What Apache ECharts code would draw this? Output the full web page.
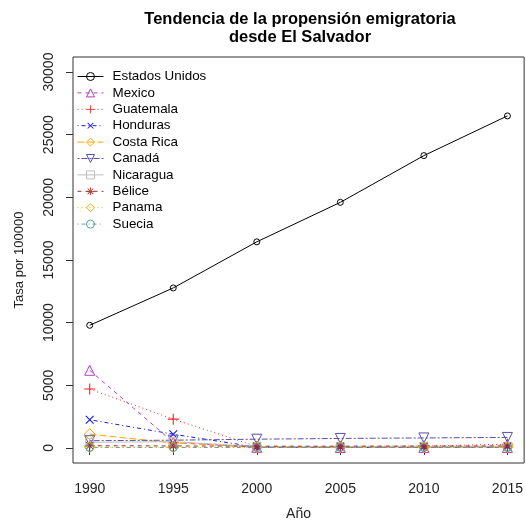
<!DOCTYPE html>
<html>
<head>
<meta charset="utf-8">
<script src="https://cdn.jsdelivr.net/npm/echarts@6/dist/echarts.min.js"></script>
<style>
  html, body { margin: 0; padding: 0; background: #fff; }
  #chart { width: 526px; height: 532px; }
</style>
</head>
<body>
<div id="chart"></div>
<script>
const years = [1990, 1995, 2000, 2005, 2010, 2015]
const yTicks = [0, 5000, 10000, 15000, 20000, 25000, 30000]

const estadosUnidos = [9790, 12770, 16450, 19600, 23330, 26500]
const mexico = [6200, 450, 50, 40, 40, 40]
const guatemala = [4700, 2300, 120, 120, 150, 300]
const honduras = [2250, 1100, 60, 60, 80, 100]
const costaRica = [1100, 400, 80, 80, 90, 100]
const canada = [580, 620, 700, 760, 800, 840]
const nicaragua = [450, 500, 120, 120, 130, 140]
const belice = [180, 160, 140, 140, 150, 160]
const panama = [80, 70, 60, 60, 60, 60]
const suecia = [40, 40, 40, 40, 40, 40]

// R-like line types
const LTY = {
  solid: 'solid',
  dashed: [4, 4],
  dotted: [1, 3],
  dotdash: [1, 3, 4, 3],
  longdash: [7, 3],
  twodash: [2, 2, 6, 2],
}

const plusPath = 'path://M4.5,0H5.5V10H4.5ZM0,4.5H10V5.5H0Z'
const starPath = 'path://M4.5,0H5.5V10H4.5ZM0,4.5H10V5.5H0ZM1.1,1.8L1.8,1.1L8.9,8.2L8.2,8.9ZM8.9,1.8L8.2,1.1L1.1,8.2L1.8,8.9Z'

// hollow: outline only, like R's open plotting characters
const seriesDefs = [
  { name: 'Estados Unidos', data: estadosUnidos, color: '#000000', lty: LTY.solid, symbol: 'circle', size: 6, hollow: true },
  { name: 'Mexico', data: mexico, color: '#B03CC0', lty: LTY.dashed, symbol: 'triangle', size: 10, hollow: true },
  { name: 'Guatemala', data: guatemala, color: '#FF2020', lty: LTY.dotted, symbol: plusPath, size: 11 },
  { name: 'Honduras', data: honduras, color: '#1818F0', lty: LTY.dotdash, symbol: plusPath, size: 11, rotate: 45 },
  { name: 'Costa Rica', data: costaRica, color: '#FFA500', lty: LTY.longdash, symbol: 'diamond', size: 11, hollow: true },
  { name: 'Canadá', data: canada, color: '#5A4FA8', lty: LTY.twodash, symbol: 'triangle', size: 10, rotate: 180, hollow: true },
  { name: 'Nicaragua', data: nicaragua, color: '#BEBEBE', lty: LTY.solid, symbol: 'rect', size: 8, hollow: true },
  { name: 'Bélice', data: belice, color: '#A52A2A', lty: LTY.dashed, symbol: starPath, size: 10 },
  { name: 'Panama', data: panama, color: '#D4C000', lty: LTY.dotted, symbol: 'diamond', size: 11, hollow: true },
  { name: 'Suecia', data: suecia, color: '#5F9EA0', lty: LTY.dotdash, symbol: 'circle', size: 8, hollow: true },
]

const chart = echarts.init(document.getElementById('chart'))

const axisFont = { color: '#222', fontSize: 14, fontFamily: 'Liberation Sans, Arial, sans-serif' }

const option = {
  backgroundColor: '#fff',
  animation: false,
  title: {
    text: 'Tendencia de la propensión emigratoria\ndesde El Salvador',
    left: 295,
    top: 5,
    textAlign: 'center',
    textStyle: {
      fontSize: 16.5,
      fontWeight: 'bold',
      color: '#000',
      lineHeight: 18,
      fontFamily: 'Liberation Sans, Arial, sans-serif',
    },
  },
  legend: {
    orient: 'vertical',
    left: 72,
    top: 65,
    itemWidth: 26,
    itemHeight: 10,
    itemGap: 3.4,
    data: seriesDefs.map((s) => s.name),
    lineStyle: { width: 1 },
    itemStyle: { borderWidth: 1 },
    textStyle: {
      color: '#000',
      fontSize: 13.4,
      padding: [0, 0, 0, 4],
      fontFamily: 'Liberation Sans, Arial, sans-serif',
    },
  },
  grid: {
    left: 73,
    right: -1,
    top: 57,
    bottom: 69,
    show: true,
    borderColor: '#333',
    borderWidth: 1,
  },
  xAxis: {
    type: 'value',
    min: 1989,
    max: 2016,
    name: 'Año',
    nameLocation: 'middle',
    nameGap: 44,
    nameTextStyle: axisFont,
    axisLine: { show: false },
    axisTick: { show: true, inside: false, length: 7, customValues: years, lineStyle: { color: '#333' } },
    axisLabel: { margin: 19, customValues: years, formatter: (v) => String(v), ...axisFont },
    splitLine: { show: false },
  },
  yAxis: {
    type: 'value',
    min: -1200,
    max: 31200,
    name: 'Tasa por 100000',
    nameLocation: 'middle',
    nameGap: 47,
    nameRotate: 90,
    nameTextStyle: { ...axisFont, fontSize: 13 },
    axisLine: { show: false },
    axisTick: { show: true, inside: false, length: 7, customValues: yTicks, lineStyle: { color: '#333' } },
    axisLabel: { margin: 17, rotate: 90, customValues: yTicks, formatter: (v) => String(v), ...axisFont },
    splitLine: { show: false },
  },
  series: seriesDefs.map((s) => ({
    name: s.name,
    type: 'line',
    data: years.map((y, i) => [y, s.data[i]]),
    color: s.color,
    symbol: s.symbol,
    symbolSize: s.size,
    symbolRotate: s.rotate || 0,
    showAllSymbol: true,
    lineStyle: { color: s.color, width: 1, type: s.lty },
    itemStyle: s.hollow
      ? { color: 'rgba(255,255,255,0)', borderColor: s.color, borderWidth: 1 }
      : { color: s.color, borderWidth: 0 },
    emphasis: { disabled: true },
  })),
}

chart.setOption(option)
</script>
</body>
</html>
